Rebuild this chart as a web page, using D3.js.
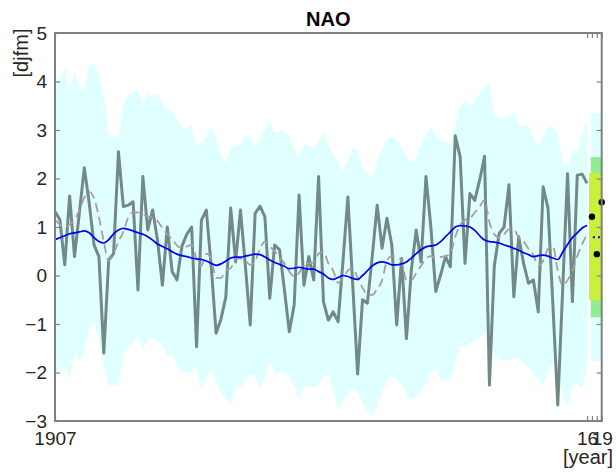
<!DOCTYPE html>
<html>
<head>
<meta charset="utf-8">
<script src="https://d3js.org/d3.v7.min.js"></script>
<style>
body { margin: 0; background: #fff; }
svg { display: block; font-family: "Liberation Sans", Arial, Helvetica, sans-serif; }
.ticks text { font-size: 19px; fill: #262626; }
</style>
</head>
<body>
<svg id="chart"></svg>
<script>
// hindcast period, one value per winter
var firstYear = 1907;

// observed djfm nao index
var obs = [
	1.32, 1.15, 0.22, 1.64, 0.39, 1.30, 2.22, 1.50, 0.63, 0.39,
	-1.60, 0.32, 0.45, 2.55, 1.42, 1.45, 1.52, -0.30, 2.04, 0.94,
	1.35, 0.73, -0.20, 1.00, 0.08, -0.09, 0.60, 0.85, 1.00, -1.47,
	1.14, 1.35, 0.20, -1.19, -0.90, -0.44, 1.39, 0.28, 1.35, 0.20,
	-1.02, 1.28, 1.43, 1.21, -0.47, 0.63, 0.53, -0.30, -1.16, -0.61,
	1.66, -0.20, 0.39, -0.09, 2.04, -0.54, -0.92, -0.75, -0.95, 0.30,
	1.62, -0.20, -2.03, -0.50, -0.57, 0.40, 1.45, 0.56, 1.18, 0.63,
	-1.02, 0.35, -1.30, 0.11, 0.94, 0.28, 2.04, 1.00, -0.33, 0.01,
	0.39, 0.18, 2.88, 2.45, 0.25, 1.69, 1.55, 1.97, 2.46, -2.26,
	0.20, 0.87, 1.00, 1.87, -0.44, 0.80, 0.25, -0.16, -0.09, -0.75,
	1.83, 1.39, -0.60, -2.67, -0.30, 2.10, -0.54, 2.07, 2.09, 1.90
];

// smoothed observations (dashed)
var obsSmooth = [
	1.15, 1.05, 1.00, 1.05, 1.15, 1.35, 1.60, 1.72, 1.60, 1.20,
	0.70, 0.30, 0.45, 0.70, 0.90, 1.20, 1.30, 1.30, 1.25, 1.22,
	1.20, 1.12, 0.98, 0.85, 0.75, 0.62, 0.57, 0.60, 0.63, 0.35,
	0.20, 0.45, 0.35, -0.05, -0.05, 0.10, 0.15, 0.35, 0.35, 0.30,
	0.22, 0.30, 0.55, 0.70, 0.60, 0.50, 0.38, 0.25, 0.08, -0.02,
	0.05, 0.22, 0.25, 0.28, 0.45, 0.50, 0.25, 0.10, -0.15, -0.05,
	0.10, 0.15, -0.05, -0.25, -0.40, -0.40, -0.28, -0.10, 0.30, 0.40,
	0.38, 0.30, -0.10, -0.10, 0.05, 0.20, 0.35, 0.40, 0.35, 0.38,
	0.40, 0.45, 0.80, 1.05, 1.15, 1.18, 1.30, 1.42, 1.56, 1.10,
	0.85, 0.78, 0.85, 0.95, 0.95, 0.78, 0.70, 0.55, 0.42, 0.20,
	0.30, 0.55, 0.60, 0.10, -0.20, -0.10, 0.10, 0.40, 0.65, 0.85
];

// ensemble mean (blue)
var ensMean = [
	0.74, 0.78, 0.82, 0.86, 0.88, 0.90, 0.92, 0.88, 0.78, 0.70,
	0.67, 0.74, 0.86, 0.94, 0.97, 0.95, 0.92, 0.88, 0.85, 0.80,
	0.73, 0.65, 0.60, 0.55, 0.49, 0.44, 0.41, 0.39, 0.36, 0.34,
	0.33, 0.30, 0.25, 0.21, 0.24, 0.30, 0.36, 0.38, 0.38, 0.40,
	0.42, 0.44, 0.43, 0.38, 0.32, 0.27, 0.23, 0.19, 0.14, 0.15,
	0.17, 0.15, 0.13, 0.13, 0.08, 0.03, -0.05, -0.08, -0.04, 0.00,
	-0.02, -0.06, -0.08, 0.00, 0.10, 0.20, 0.26, 0.28, 0.26, 0.22,
	0.22, 0.24, 0.28, 0.36, 0.45, 0.53, 0.59, 0.61, 0.63, 0.70,
	0.80, 0.90, 1.00, 1.03, 1.02, 1.00, 0.93, 0.82, 0.73, 0.70,
	0.69, 0.67, 0.63, 0.60, 0.56, 0.52, 0.47, 0.43, 0.39, 0.41,
	0.42, 0.40, 0.36, 0.33, 0.48, 0.64, 0.78, 0.88, 0.98, 1.03
];

// ensemble spread, upper and lower edge
var ensHigh = [
	3.80, 4.10, 4.28, 3.82, 4.20, 3.82, 3.86, 4.34, 4.38, 4.10,
	3.76, 2.90, 2.88, 2.86, 3.52, 3.72, 3.78, 3.86, 3.52, 3.76,
	3.69, 3.76, 3.55, 3.41, 3.38, 3.20, 3.04, 3.04, 3.10, 2.66,
	2.75, 2.86, 3.07, 2.85, 2.50, 2.31, 2.66, 2.66, 2.72, 2.90,
	2.85, 2.62, 2.85, 3.00, 3.17, 2.96, 2.98, 2.96, 2.86, 2.60,
	2.42, 2.72, 2.66, 2.62, 2.80, 2.96, 2.70, 2.52, 2.30, 2.14,
	2.40, 2.62, 2.60, 2.20, 2.11, 2.04, 2.40, 2.60, 2.83, 2.86,
	2.80, 2.62, 2.45, 2.31, 2.40, 2.72, 2.90, 3.04, 2.90, 2.79,
	2.75, 2.72, 3.10, 3.48, 3.62, 3.48, 3.62, 3.76, 3.85, 4.00,
	3.27, 3.25, 3.21, 3.30, 3.38, 3.10, 3.10, 3.07, 2.85, 2.66,
	2.90, 3.10, 3.05, 2.93, 2.30, 2.25, 2.59, 2.55, 2.95, 3.21
];
var ensLow = [
	-2.15, -1.95, -1.84, -2.15, -1.60, -1.77, -1.56, -1.12, -0.94, -1.32,
	-1.90, -2.28, -2.25, -2.25, -1.60, -1.45, -1.39, -1.22, -1.53, -1.32,
	-1.29, -1.35, -1.45, -1.67, -1.64, -1.85, -2.01, -2.00, -1.98, -1.87,
	-2.35, -2.10, -1.91, -2.20, -2.42, -2.55, -2.66, -2.32, -2.30, -2.15,
	-2.04, -2.07, -2.32, -2.05, -1.77, -2.01, -2.00, -2.00, -2.08, -2.30,
	-2.56, -2.28, -2.32, -2.30, -2.25, -2.10, -2.01, -2.40, -2.77, -2.60,
	-2.40, -2.35, -2.40, -2.65, -2.80, -2.90, -2.70, -2.39, -2.20, -2.08,
	-2.15, -2.25, -2.45, -2.56, -2.49, -2.35, -2.22, -2.00, -1.91, -2.18,
	-2.16, -2.15, -1.80, -1.46, -1.49, -1.40, -1.32, -1.28, -1.15, -1.08,
	-1.67, -1.72, -1.77, -1.74, -1.70, -1.72, -1.80, -1.90, -2.01, -2.15,
	-2.28, -1.95, -1.80, -1.90, -2.50, -2.70, -2.30, -2.22, -2.35, -1.80
];

// forecast winters after the hindcast
var fcYears = [2017, 2018, 2019];
var fcDots = [1.21, 0.44, 1.51];
var fcMean = 0.79;
// forecast ranges: [low, high]
var fcSpread = [-1.76, 3.35];
var fcOuter = [-0.86, 2.44];
var fcInner = [-0.51, 2.11];

var yTicks = [-3, -2, -1, 0, 1, 2, 3, 4, 5];
var xTicks = [1907, 2016, 2017, 2018, 2019];
var xTickLabels = {1907: "1907", 2016: "16", 2019: "19"};

var rows = obs.map(function(v, i) {
	return {
		year: firstYear + i,
		obs: v,
		smooth: obsSmooth[i],
		mean: ensMean[i],
		high: ensHigh[i],
		low: ensLow[i]
	};
});

var width = 616, height = 473;
var margin = {top: 33, right: 14, bottom: 52, left: 55};
var svg = d3.select("#chart")
	.attr("width", width)
	.attr("height", height);

var x = d3.scaleLinear()
	.domain([1907, 2019])
	.range([margin.left, width - margin.right - 0.3]);
var y = d3.scaleLinear()
	.domain([-3, 5])
	.range([height - margin.bottom, margin.top]);

svg.append("defs")
	.append("clipPath")
		.attr("id", "plot-clip")
		.append("rect")
			.attr("x", x.range()[0])
			.attr("y", y.range()[1])
			.attr("width", x.range()[1] - x.range()[0])
			.attr("height", y.range()[0] - y.range()[1]);

var plot = svg.append("g").attr("clip-path", "url(#plot-clip)");

// hindcast ensemble spread
plot.append("path")
	.datum(rows)
	.attr("d", d3.area()
		.x(function(d) { return x(d.year); })
		.y0(function(d) { return y(d.low); })
		.y1(function(d) { return y(d.high); }))
	.style("fill", "#e0ffff");

// forecast boxes, from spread down to the inner range
var fcStart = fcYears[0] - 0.25;
plot.append("rect")
	.attr("x", x(fcStart))
	.attr("y", y(fcSpread[1]))
	.attr("width", x(2019) - x(fcStart))
	.attr("height", y(fcSpread[0]) - y(fcSpread[1]))
	.style("fill", "#e0ffff");
plot.append("rect")
	.attr("x", x(fcStart))
	.attr("y", y(fcOuter[1]))
	.attr("width", x(2019) - x(fcStart))
	.attr("height", y(fcOuter[0]) - y(fcOuter[1]))
	.style("fill", "#90ee90");
plot.append("rect")
	.attr("x", x(fcStart - 0.35))
	.attr("y", y(fcInner[1]))
	.attr("width", x(2019) - x(fcStart - 0.35))
	.attr("height", y(fcInner[0]) - y(fcInner[1]))
	.style("fill", "#c8f03c");

// observations
plot.append("path")
	.datum(rows)
	.attr("d", d3.line()
		.x(function(d) { return x(d.year); })
		.y(function(d) { return y(d.obs); }))
	.style("fill", "none")
	.style("stroke", "#728a87")
	.style("stroke-width", 3)
	.style("stroke-linejoin", "round");

plot.append("path")
	.datum(rows)
	.attr("d", d3.line()
		.curve(d3.curveMonotoneX)
		.x(function(d) { return x(d.year); })
		.y(function(d) { return y(d.smooth); }))
	.style("fill", "none")
	.style("stroke", "#ab9d9d")
	.style("stroke-width", 1.8)
	.style("stroke-dasharray", "9,5");

plot.append("path")
	.datum(rows)
	.attr("d", d3.line()
		.curve(d3.curveMonotoneX)
		.x(function(d) { return x(d.year); })
		.y(function(d) { return y(d.mean); }))
	.style("fill", "none")
	.style("stroke", "#0000ff")
	.style("stroke-width", 1.7);

// forecast mean as a dotted line
plot.append("line")
	.attr("x1", x(fcYears[0]))
	.attr("x2", x(fcYears[fcYears.length - 1]))
	.attr("y1", y(fcMean))
	.attr("y2", y(fcMean))
	.style("stroke", "#0000ff")
	.style("stroke-width", 2)
	.style("stroke-dasharray", "2,3")
	.style("stroke-dashoffset", -1);

svg.append("g")
	.selectAll("circle")
	.data(fcYears)
	.enter()
	.append("circle")
		.attr("cx", function(d) { return x(d); })
		.attr("cy", function(d, i) { return y(fcDots[i]); })
		.attr("r", 3.2)
		.style("fill", "#000");

// axes: ticks point inwards, box drawn on top
var tickColor = "#808080";
function styleAxis(g) {
	g.select(".domain").remove();
	g.selectAll(".tick line").style("stroke", tickColor).style("stroke-width", 1.2);
	g.attr("class", "ticks");
}

svg.append("g")
	.attr("transform", "translate(" + x.range()[0] + ",0)")
	.call(d3.axisLeft(y).tickValues(yTicks).tickSize(-5).tickPadding(8).tickFormat(d3.format("d")))
	.call(styleAxis)
	.selectAll("text").attr("dy", "0.34em");

svg.append("g")
	.attr("transform", "translate(" + x.range()[1] + ",0)")
	.call(d3.axisRight(y).tickValues(yTicks).tickSize(-5).tickFormat(""))
	.call(styleAxis);

svg.append("g")
	.attr("transform", "translate(0," + y.range()[1] + ")")
	.call(d3.axisTop(x).tickValues(xTicks).tickSize(-5).tickFormat(""))
	.call(styleAxis);

svg.append("g")
	.attr("transform", "translate(0," + y.range()[0] + ")")
	.call(d3.axisBottom(x).tickValues(xTicks).tickSize(-5).tickPadding(11)
		.tickFormat(function(d) { return xTickLabels[d] || ""; }))
	.call(styleAxis);

svg.append("rect")
	.attr("x", x.range()[0])
	.attr("y", y.range()[1])
	.attr("width", x.range()[1] - x.range()[0])
	.attr("height", y.range()[0] - y.range()[1])
	.style("fill", "none")
	.style("stroke", tickColor)
	.style("stroke-width", 2);

svg.append("text")
	.attr("x", (x.range()[0] + x.range()[1]) / 2)
	.attr("y", 26)
	.attr("text-anchor", "middle")
	.style("font-size", "20px")
	.style("font-weight", "bold")
	.style("fill", "#000")
	.text("NAO");

svg.append("text")
	.attr("transform", "translate(28,53) rotate(-90)")
	.attr("text-anchor", "middle")
	.style("font-size", "20px")
	.style("fill", "#262626")
	.text("[djfm]");

svg.append("text")
	.attr("x", 613)
	.attr("y", 464)
	.attr("text-anchor", "end")
	.style("font-size", "20px")
	.style("fill", "#262626")
	.text("[year]");
</script>
</body>
</html>
